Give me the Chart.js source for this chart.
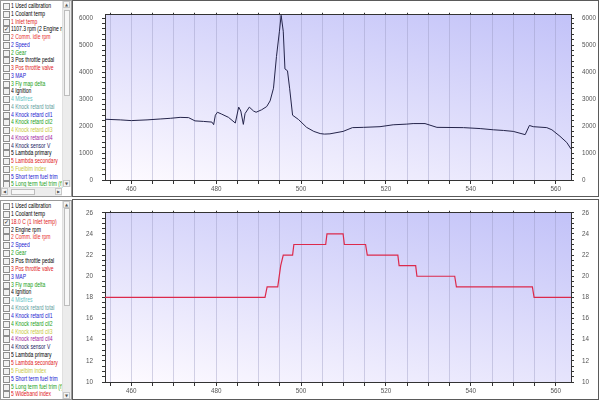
<!DOCTYPE html>
<html>
<head>
<meta charset="utf-8">
<script src="https://cdn.jsdelivr.net/npm/chart.js@4.4.1/dist/chart.umd.min.js"></script>
<style>
body { margin:0; width:600px; height:400px; background:#fff; position:relative; overflow:hidden;
       font-family:'Liberation Sans',sans-serif; }
.list { position:absolute; left:0; width:70px; border:1px solid #9a9a9a; background:#fff; overflow:hidden; }
.row { position:absolute; left:0; width:62px; height:8px; font-size:6.6px; line-height:8px; white-space:nowrap; overflow:hidden; }
.cb { position:absolute; left:2px; top:1px; width:5px; height:5px; border:1px solid #8e8e8e; background:#f2f2f2; }
.cb span { position:absolute; left:0; top:-2px; font-size:6px; line-height:8px; color:#222; font-family:'DejaVu Sans'; }
.txt { position:absolute; left:10px; top:0; transform:scaleX(0.76); transform-origin:0 50%; }
.vs { position:absolute; right:0; top:0; width:8px; background:#ececec; border-left:1px solid #e0e0e0; }
.hs { position:absolute; left:0; height:8px; background:#ececec; border-top:1px solid #e0e0e0; }
.btn { position:absolute; width:7px; height:7px; background:#f4f4f4; border:1px solid #c8c8c8; box-sizing:border-box;
       font-size:4px; line-height:6px; text-align:center; color:#555; font-family:'DejaVu Sans'; }
.thumb { position:absolute; background:#f7f7f7; border:1px solid #bdbdbd; box-sizing:border-box; }
.frame { position:absolute; left:72px; width:525px; border:1px solid #5a5a5a; background:#fff; }
canvas { position:absolute; left:74px; }
</style>
</head>
<body>
<div class="list" id="listTop" style="top:0;height:195px"></div>
<div class="list" id="listBottom" style="top:200px;height:198px"></div>
<div class="frame" style="top:0;height:195px"></div>
<div class="frame" style="top:199px;height:199px"></div>
<canvas id="rpmChart" width="524" height="194" style="top:2px"></canvas>
<canvas id="tempChart" width="524" height="198" style="top:200px"></canvas>
<script>
// channel lists
const topChannels = ['1 Used calibration', '1 Coolant temp', '1 Inlet temp', '1107.3 rpm (2 Engine rpm)',
  '2 Comm. idle rpm', '2 Speed', '2 Gear', '3 Pos throttle pedal', '3 Pos throttle valve', '3 MAP',
  '3 Fly map delta', '4 Ignition', '4 Misfires', '4 Knock retard total', '4 Knock retard cil1',
  '4 Knock retard cil2', '4 Knock retard cil3', '4 Knock retard cil4', '4 Knock sensor V',
  '5 Lambda primary', '5 Lambda secondary', '5 Fuelbim index', '5 Short term fuel trim',
  '5 Long term fuel trim (f)', '5 Wideband index'];
const bottomChannels = ['1 Used calibration', '1 Coolant temp', '18.0 C (1 Inlet temp)', '2 Engine rpm',
  '2 Comm. idle rpm', '2 Speed', '2 Gear', '3 Pos throttle pedal', '3 Pos throttle valve', '3 MAP',
  '3 Fly map delta', '4 Ignition', '4 Misfires', '4 Knock retard total', '4 Knock retard cil1',
  '4 Knock retard cil2', '4 Knock retard cil3', '4 Knock retard cil4', '4 Knock sensor V',
  '5 Lambda primary', '5 Lambda secondary', '5 Fuelbim index', '5 Short term fuel trim',
  '5 Long term fuel trim (f)', '5 Wideband index'];
const channelColors = ['#000', '#000', '#e02020', '#000', '#e83030', '#2020d0', '#20a020', '#000', '#e02020',
  '#2020d0', '#20a020', '#000', '#60c4c4', '#5c9c9c', '#2020d0', '#20a020', '#c8c840', '#a020a0', '#202060',
  '#000', '#e02020', '#c8c840', '#2020d0', '#20a020', '#e02020'];

// engine rpm trace
const rpmTime = [453.8, 457.4, 460, 463.7, 466.8, 469.2, 471.5, 473.5, 475, 477, 479, 479.4, 479.8, 480.3,
  481.3, 482.9, 484.5, 485.3, 485.8, 486.4, 486.8, 487.8, 488.8, 489.4, 490.7, 491.9, 492.7, 493.5, 494.2,
  494.9, 495.3, 495.8, 496.2, 496.8, 497.3, 498, 499.4, 501.3, 503, 504.5, 505.5, 506.8, 509.9, 512.1,
  514.7, 518.6, 521.7, 524.9, 526.4, 529.2, 532, 538.3, 542.2, 545.3, 547.7, 550, 552.8, 553.8, 554.7,
  557.9, 559.1, 561, 562.6, 563.6];
const rpmValues = [2250, 2227, 2200, 2227, 2260, 2285, 2320, 2310, 2190, 2170, 2145, 2050, 2400, 2510,
  2440, 2320, 2110, 2700, 2555, 2060, 2460, 2700, 2555, 2510, 2600, 2720, 2930, 3400, 4570,
  5510, 6100, 5510, 4115, 4045, 3400, 2400, 2240, 1950, 1800, 1720, 1700, 1710, 1800, 1940,
  1950, 1975, 2045, 2070, 2090, 2090, 1950, 1940, 1905, 1860, 1835, 1800, 1680, 2020, 1975,
  1940, 1860, 1620, 1390, 1150];

// inlet temperature trace
const tempTime = [453.8, 491.5, 492.0, 494.5, 495.2, 495.8, 498.0, 498.3, 505.8, 506.1, 509.9, 510.2, 515.2,
  515.6, 522.8, 523.1, 527.0, 527.3, 536.2, 536.6, 554.5, 554.9, 563.6];
const tempValues = [18, 18, 19, 19, 21, 22, 22, 23, 23, 24, 24, 23, 23,
  22, 22, 21, 21, 20, 20, 19, 19, 18, 18];

// axes
const timeMin = 453.8, timeMax = 563.6;
const timeLabels = [460, 480, 500, 520, 540, 560];
const rpmLabels = [0, 1000, 2000, 3000, 4000, 5000, 6000];
const tempLabels = [10, 12, 14, 16, 18, 20, 22, 24, 26];

function buildList(el, names, checked, thumbTop, thumbH, hasHScroll, rowH) {
  names.forEach((n, i) => {
    const r = document.createElement('div');
    r.className = 'row';
    r.style.top = (1 + i * rowH) + 'px';
    r.innerHTML = '<div class="cb">' + (i === checked ? '<span>\u2713</span>' : '') + '</div>' +
      '<div class="txt" style="color:' + channelColors[i] + '">' + n + '</div>';
    el.appendChild(r);
  });
  const h = el.clientHeight;
  const vsH = hasHScroll ? h - 9 : h;
  const vs = document.createElement('div');
  vs.className = 'vs';
  vs.style.height = vsH + 'px';
  vs.innerHTML = '<div class="btn" style="left:0;top:0">\u25B2</div>' +
    '<div class="thumb" style="left:1px;width:6px;top:' + thumbTop + 'px;height:' + thumbH + 'px"></div>' +
    '<div class="btn" style="left:0;top:' + (vsH - 7) + 'px">\u25BC</div>';
  el.appendChild(vs);
  if (hasHScroll) {
    const hs = document.createElement('div');
    hs.className = 'hs';
    hs.style.top = (h - 9) + 'px';
    hs.style.width = '61px';
    hs.innerHTML = '<div class="btn" style="left:0;top:0">\u25C0</div>' +
      '<div class="thumb" style="left:10px;top:1px;height:6px;width:24px"></div>' +
      '<div class="btn" style="left:54px;top:0">\u25B6</div>';
    el.appendChild(hs);
  }
}
buildList(document.getElementById('listTop'), topChannels, 3, 9, 86, true, 7.75);
buildList(document.getElementById('listBottom'), bottomChannels, 2, 7, 98, false, 7.85);

// gradient: white at bottom-left, lavender at top-right, tilted towards the top edge
const plotBg = {
  id: 'plotBg',
  beforeDraw(chart) {
    const a = chart.chartArea, c = chart.ctx;
    const w = a.right - a.left, h = a.bottom - a.top;
    const D = 1 / (0.16 / (w * w) + 0.36 / (h * h));
    const g = c.createLinearGradient(a.left, a.bottom, a.left + 0.4 * D / w, a.bottom - 0.6 * D / h);
    g.addColorStop(0, '#fefbff');
    g.addColorStop(1, '#c2c2f8');
    c.save();
    c.fillStyle = g;
    c.fillRect(a.left, a.top, w, h);
    c.restore();
  }
};

const tickFont = { family: "'Liberation Sans',sans-serif", size: 6.3 };
const axisColor = '#333';

function steps(from, to, step) {
  const out = [];
  for (let v = from; v <= to + 1e-9; v += step) out.push({ value: Math.round(v * 100) / 100 });
  return out;
}

function makeChart(id, xs, ys, color, width, yMin, yMax, yLabels, yMinor, padTop) {
  const pts = xs.map((x, i) => ({ x: x, y: ys[i] }));
  const yTicks = ax => { ax.ticks = steps(yLabels[0], yLabels[yLabels.length - 1], yMinor); };
  const yLabel = v => yLabels.includes(v) ? String(v) : '';
  const xTicks = ax => { ax.ticks = steps(455, 560, 5); };
  return new Chart(document.getElementById(id), {
    type: 'line',
    data: { datasets: [{ data: pts, borderColor: color, borderWidth: width, pointRadius: 0, tension: 0, fill: false }] },
    options: {
      responsive: false,
      animation: false,
      devicePixelRatio: 1,
      layout: { padding: { top: padTop, right: 2, bottom: 0, left: 0 } },
      plugins: { legend: { display: false }, tooltip: { enabled: false } },
      scales: {
        x: {
          type: 'linear', position: 'bottom', min: timeMin, max: timeMax,
          afterBuildTicks: xTicks,
          afterFit: s => { s.height = 16; },
          ticks: { autoSkip: false, maxRotation: 0, padding: 1, font: tickFont, color: '#555',
                   callback: v => timeLabels.includes(v) ? String(v) : '' },
          grid: { color: 'rgba(150,150,190,0.4)', tickColor: axisColor, tickLength: 4, lineWidth: 1 },
          border: { color: axisColor }
        },
        xTop: {
          type: 'linear', position: 'top', min: timeMin, max: timeMax,
          afterBuildTicks: xTicks,
          afterFit: s => { s.height = 0; },
          ticks: { display: false },
          grid: { drawOnChartArea: false, tickColor: axisColor, tickLength: 2 },
          border: { color: axisColor }
        },
        y: {
          type: 'linear', position: 'left', min: yMin, max: yMax,
          afterBuildTicks: yTicks,
          afterFit: s => { s.width = 31; },
          ticks: { autoSkip: false, padding: 9, font: tickFont, color: '#555', callback: yLabel },
          grid: { color: 'rgba(0,0,0,0)', tickColor: axisColor, tickLength: 3 },
          border: { color: axisColor }
        },
        y2: {
          type: 'linear', position: 'right', min: yMin, max: yMax,
          afterBuildTicks: yTicks,
          afterFit: s => { s.width = 25; },
          ticks: { autoSkip: false, padding: 8, font: tickFont, color: '#555', callback: yLabel },
          grid: { drawOnChartArea: false, tickColor: axisColor, tickLength: 3 },
          border: { color: axisColor }
        }
      }
    },
    plugins: [plotBg]
  });
}

makeChart('rpmChart', rpmTime, rpmValues, '#24244a', 1, 0, 6120, rpmLabels, 200, 4);
makeChart('tempChart', tempTime, tempValues, '#dc2a4c', 1.2, 10, 26, tempLabels, 0.5, 8);
</script>
</body>
</html>
